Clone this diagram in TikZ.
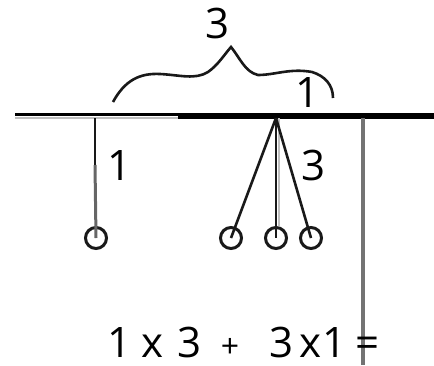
\documentclass[tikz,border=0pt]{standalone}
\usepackage{fontspec}
\setmainfont{Open Sans}
\begin{document}
\begin{tikzpicture}[x=1pt,y=-1pt,
  lbl/.style={inner sep=0pt,anchor=base,text depth=0pt,font=\fontsize{42}{42}\selectfont},
  small/.style={inner sep=0pt,anchor=base,text depth=0pt,font=\fontsize{32}{32}\selectfont},
  bob/.style={circle,draw=black!90,line width=3pt,minimum size=21pt,inner sep=0pt},
  rod/.style={line width=2.6pt,black!90},
  grayrod/.style={line width=3.5pt,black!55}]
\useasboundingbox (0,0) rectangle (434,365);
% horizontal bar
\coordinate (hl) at (15,116);
\coordinate (hm) at (178,116);
\coordinate (hr) at (434,116);
\draw[line width=2.5pt,black!25] ([yshift=-2pt]hl) -- ([yshift=-2pt]hm);
\draw[line width=2.6pt,black] ([yshift=1.5pt]hl) -- ([yshift=1.5pt]hm);
\draw[line width=5.5pt,black] (hm) -- (hr);
% anchor points
\coordinate (a1) at (95,118);
\coordinate (a1m) at (95,165);
\coordinate (a2) at (276,118);
\coordinate (a3) at (363,118);
\coordinate (a3b) at (363,365);
% bobs
\node[bob] (c1) at (96,238) {};
\node[bob] (c2) at (231,238) {};
\node[bob] (c3) at (276,238) {};
\node[bob] (c4) at (311,238) {};
% rods
\draw[rod] (a1) -- (a1m);
\draw[line width=3pt,black!60] (a1m) -- (c1.center);
\draw[line width=1.8pt,black!25] ([xshift=3pt]a2) -- ([xshift=3pt]c3.north);
\draw[rod] (a2) -- (c2.center);
\draw[rod] (a2) -- (c3.center);
\draw[rod] (a2) -- (c4.center);
\draw[grayrod] (a3) -- (a3b);
% labels
\node[lbl] (l1) at (120,180) {1};
\node[lbl] (l3) at (314,180) {3};
% brace
\draw[line width=2.6pt,black!90] (113,102) .. controls (125,80) and (140,73) .. (160,74)
  .. controls (180,75) and (195,80) .. (208,72)
  .. controls (218,65) and (224,55) .. (231,47)
  .. controls (240,58) and (245,72) .. (258,75)
  .. controls (275,75) and (290,68) .. (312,72)
  .. controls (325,76) and (333,85) .. (333,98);
\node[lbl] (t3) at (218,38) {3};
\node[lbl] (t1) at (308,107) {1};
% formula
\node[lbl] (f1) at (120,357) {1};
\node[lbl] (fx1) at (153,357) {x};
\node[lbl] (f3) at (190,357) {3};
\node[small] (fp) at (230,357) {+};
\node[lbl] (f3b) at (282,357) {3};
\node[lbl] (fx2) at (310,357) {x};
\node[lbl] (f1b) at (335,357) {1};
\node[lbl] (feq) at (368,357) {=};
\end{tikzpicture}
\end{document}
